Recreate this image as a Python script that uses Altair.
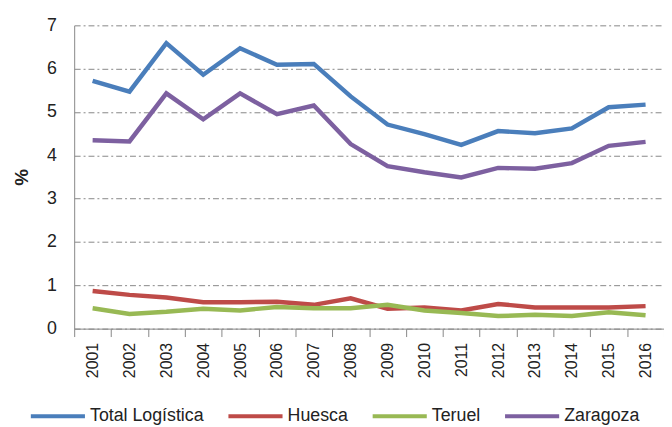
import altair as alt
import pandas as pd

years = [str(y) for y in range(2001, 2017)]
total = [5.72, 5.47, 6.59, 5.86, 6.47, 6.09, 6.11, 5.36, 4.71, 4.49, 4.24, 4.56, 4.51, 4.62, 5.11, 5.17]
huesca = [0.87, 0.78, 0.72, 0.61, 0.61, 0.62, 0.55, 0.70, 0.46, 0.49, 0.42, 0.57, 0.49, 0.49, 0.49, 0.52]
teruel = [0.47, 0.34, 0.39, 0.46, 0.42, 0.50, 0.47, 0.47, 0.55, 0.42, 0.36, 0.29, 0.32, 0.29, 0.38, 0.31]
zaragoza = [4.35, 4.32, 5.43, 4.83, 5.43, 4.95, 5.15, 4.26, 3.75, 3.61, 3.49, 3.71, 3.69, 3.82, 4.22, 4.31]

series_names = ["Total Logística", "Huesca", "Teruel", "Zaragoza"]
series_vals = [total, huesca, teruel, zaragoza]
colors = ["#4a7ebb", "#be4b48", "#98b954", "#7d60a0"]

rows = []
for name, vals in zip(series_names, series_vals):
    for y, v in zip(years, vals):
        rows.append({"year": y, "serie": name, "value": v})
df = pd.DataFrame(rows)

font = "Liberation Sans"

chart = alt.Chart(df).mark_line(strokeWidth=4.5).encode(
    x=alt.X("year:O", bandPosition=0.5,
            scale=alt.Scale(type="band", paddingInner=0, paddingOuter=0),
            axis=alt.Axis(title=None, labelAngle=-90, labelFontSize=16, labelFont=font,
                          labelColor="#222222", tickBand="extent", tickSize=8,
                          tickColor="#868686", domainColor="#868686", labelPadding=6,
                          grid=False)),
    y=alt.Y("value:Q",
            scale=alt.Scale(domain=[0, 7], nice=False),
            axis=alt.Axis(title="%", titleFontSize=19, titleFont=font, titleFontWeight="bold",
                          titleColor="#222222", values=[0, 1, 2, 3, 4, 5, 6, 7],
                          labelFontSize=18, labelFont=font, labelColor="#222222",
                          ticks=False, labelPadding=18, domainColor="#868686",
                          gridColor="#868686", gridDash=[6, 3, 2, 3], gridWidth=1,
                          titlePadding=15)),
    color=alt.Color("serie:N",
                    scale=alt.Scale(domain=series_names, range=colors),
                    sort=series_names,
                    legend=alt.Legend(title=None, orient="none", direction="horizontal",
                                      legendX=-46, legendY=366,
                                      symbolType="stroke", symbolSize=3000,
                                      symbolStrokeWidth=4, labelFontSize=18,
                                      labelFont=font, labelColor="#222222",
                                      columnPadding=16, labelOffset=3, padding=0)),
).properties(
    width=597, height=307,
    autosize=alt.AutoSizeParams(type="none"),
    padding={"left": 67, "top": 15, "right": 0, "bottom": 97},
).configure_view(stroke=None)

chart.save("out.html", embed_options={"renderer": "svg", "actions": False})
